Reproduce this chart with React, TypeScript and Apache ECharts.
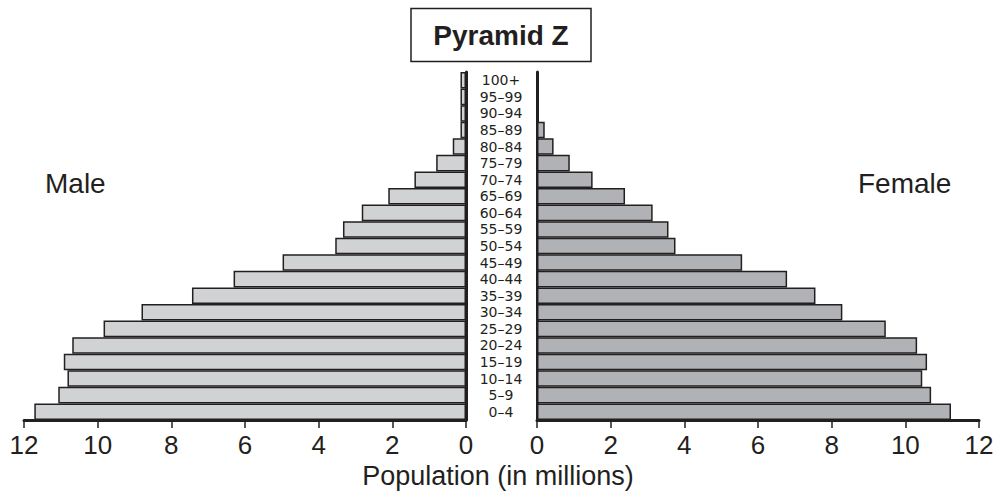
import React, { useEffect, useRef } from "react";
import * as echarts from "echarts";

const ageGroups = [
  "0–4", "5–9", "10–14", "15–19", "20–24", "25–29", "30–34", "35–39", "40–44", "45–49",
  "50–54", "55–59", "60–64", "65–69", "70–74", "75–79", "80–84", "85–89", "90–94", "95–99", "100+",
];
const maleValues = [
  11.72, 11.07, 10.82, 10.92, 10.69, 9.84, 8.81, 7.44, 6.31, 4.98,
  3.55, 3.34, 2.83, 2.11, 1.4, 0.81, 0.36, 0.15, 0.15, 0.15, 0.15,
];
const femaleValues = [
  11.24, 10.7, 10.46, 10.59, 10.32, 9.47, 8.29, 7.56, 6.79, 5.57,
  3.76, 3.57, 3.14, 2.39, 1.51, 0.89, 0.45, 0.21, 0, 0, 0,
];
const titleText = "Pyramid Z";
const maleLabel = "Male";
const femaleLabel = "Female";
const xAxisName = "Population (in millions)";

const INK = "#231f20";
const FONT = "'Liberation Sans', Arial, Helvetica, sans-serif";
const AGE_FONT = "'DejaVu Sans', 'Liberation Sans', sans-serif";

export default function App() {
  const ref = useRef<HTMLDivElement>(null);
  useEffect(() => {
    if (!ref.current) return;
    const chart = echarts.init(ref.current, null, { renderer: "svg" });
    const axisLine = { show: true, lineStyle: { color: INK, width: 3 } };
    const xCommon = {
      type: "value",
      min: 0,
      max: 12,
      interval: 2,
      splitLine: { show: false },
      axisLine,
      axisTick: { show: true, length: 8, lineStyle: { color: INK, width: 1.5 } },
      axisLabel: { color: INK, fontSize: 26, fontFamily: FONT, margin: 12 },
    };
    chart.setOption({
      animation: false,
      backgroundColor: "#ffffff",
      textStyle: { fontFamily: FONT },
      grid: [
        { left: 24, width: 442, top: 72, height: 348 },
        { left: 537, width: 442, top: 72, height: 348 },
      ],
      xAxis: [
        { ...xCommon, gridIndex: 0, inverse: true },
        { ...xCommon, gridIndex: 1 },
      ],
      yAxis: [
        {
          type: "category",
          gridIndex: 0,
          position: "right",
          data: ageGroups,
          axisLine,
          axisTick: { show: false },
          axisLabel: {
            show: true,
            align: "center",
            margin: 35,
            color: INK,
            fontSize: 14,
            lineHeight: 15,
            fontFamily: AGE_FONT,
            interval: 0,
          },
        },
        {
          type: "category",
          gridIndex: 1,
          position: "left",
          data: ageGroups,
          axisLine,
          axisTick: { show: false },
          axisLabel: { show: false },
        },
      ],
      series: [
        {
          name: maleLabel,
          type: "bar",
          xAxisIndex: 0,
          yAxisIndex: 0,
          data: maleValues,
          barCategoryGap: "0%",
          itemStyle: { color: "#d1d2d4", borderColor: INK, borderWidth: 1.5 },
        },
        {
          name: femaleLabel,
          type: "bar",
          xAxisIndex: 1,
          yAxisIndex: 1,
          data: femaleValues,
          barCategoryGap: "0%",
          itemStyle: { color: "#b1b2b5", borderColor: INK, borderWidth: 1.5 },
        },
      ],
      graphic: [
        {
          type: "rect",
          shape: { x: 411, y: 8.5, width: 180, height: 53 },
          style: { fill: "#ffffff", stroke: INK, lineWidth: 1.5 },
        },
        {
          type: "text",
          x: 501,
          y: 35,
          style: {
            text: titleText,
            fill: INK,
            font: `bold 28px ${FONT}`,
            textAlign: "center",
            textVerticalAlign: "middle",
          },
        },
        {
          type: "text",
          x: 45,
          y: 183,
          style: {
            text: maleLabel,
            fill: INK,
            font: `28px ${FONT}`,
            textAlign: "left",
            textVerticalAlign: "middle",
          },
        },
        {
          type: "text",
          x: 858,
          y: 183,
          style: {
            text: femaleLabel,
            fill: INK,
            font: `28px ${FONT}`,
            textAlign: "left",
            textVerticalAlign: "middle",
          },
        },
        {
          type: "text",
          x: 498,
          y: 476,
          style: {
            text: xAxisName,
            fill: INK,
            font: `27px ${FONT}`,
            textAlign: "center",
            textVerticalAlign: "middle",
          },
        },
      ],
    });
    return () => chart.dispose();
  }, []);
  return (
    <div
      ref={ref}
      style={{ position: "fixed", left: 0, top: 0, width: 999, height: 496 }}
    />
  );
}
